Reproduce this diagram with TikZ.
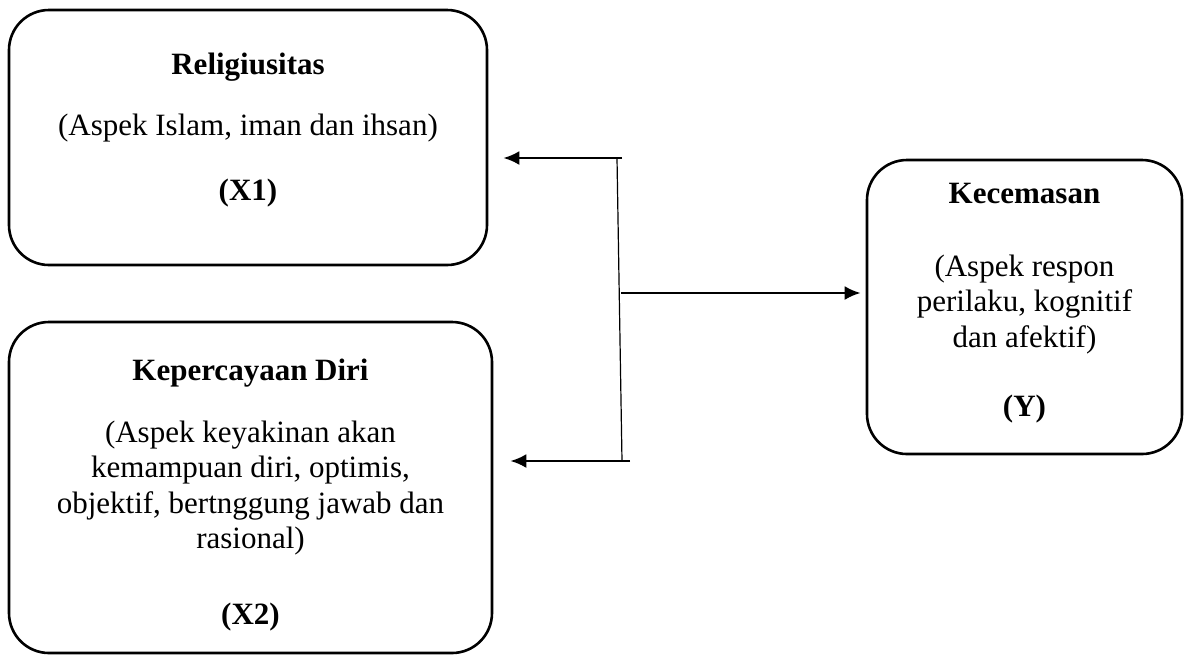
\documentclass[tikz,border=0pt]{standalone}
\usepackage{fontspec}
\setmainfont{Liberation Serif}
\usetikzlibrary{arrows.meta}

% invisible struts to nudge the text inside a box
\newcommand{\padbelow}[1]{\rule[-#1]{0pt}{#1}}
\newcommand{\padabove}[1]{\rule{0pt}{#1}}

\begin{document}
\begin{tikzpicture}[x=0.5pt, y=-0.5pt]
  % Define styles for boxes and line
  \tikzstyle{block} = [rectangle, draw, line width=1.3pt, rounded corners=20pt, inner sep=0pt, align=center, font=\fontsize{15.5}{17.75}\selectfont]
  \tikzstyle{line} = [draw, line width=1.3pt, -{Latex[length=8pt,width=7pt]}]
  \tikzstyle{stem} = [draw, line width=0.6pt]

  \useasboundingbox (0,0) rectangle (1184,655);

  % Place nodes
  \node [block, minimum width=239pt, minimum height=127.5pt] (relig) at (248,137.5)
    {\textbf{Religiusitas}\\[12.5pt] (Aspek Islam, iman dan ihsan)\\[15pt] \textbf{(X1)}\padbelow{10.7pt}};
  \node [block, minimum width=241.5pt, minimum height=165.5pt] (percaya) at (250.5,487.5)
    {\padabove{18.4pt}\textbf{Kepercayaan Diri}\\[13pt] (Aspek keyakinan akan\\ kemampuan diri, optimis,\\ objektif, bertnggung jawab dan\\ rasional)\\[20pt] \textbf{(X2)}};
  \node [block, minimum width=157.5pt, minimum height=147pt] (cemas) at (1024.5,307)
    {\textbf{Kecemasan}\\[18.5pt] (Aspek respon\\ perilaku, kognitif\\ dan afektif)\\[17pt] \textbf{(Y)}\padbelow{6.9pt}};

  % Branch points
  \coordinate (stemtop) at (617,158);
  \coordinate (stembot) at (622,461);
  \coordinate (totop) at (622,158);
  \coordinate (tomid) at (621,293);
  \coordinate (tobot) at (630,461);

  % Draw edges
  \path [stem] (stemtop) -- (stembot);
  \path [line, shorten >=7.5pt] (totop) -- (totop -| relig.east);
  \path [line, shorten >=8.5pt] (tobot) -- (tobot -| percaya.east);
  \path [line, shorten >=2.5pt] (tomid) -- (tomid -| cemas.west);
\end{tikzpicture}
\end{document}
